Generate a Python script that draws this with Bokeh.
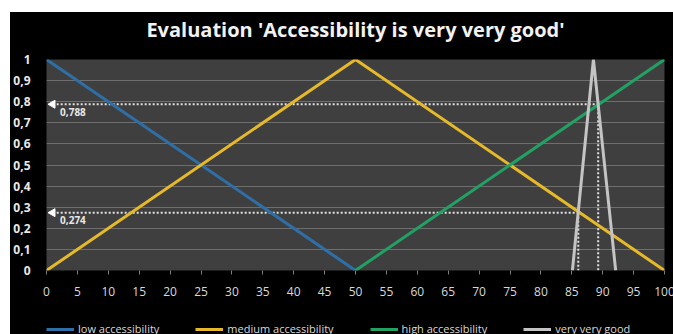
from bokeh.plotting import figure
from bokeh.models import Range1d, FixedTicker, Legend, LegendItem, Label, LinearAxis
from bokeh.layouts import column
from bokeh.embed import file_html
from bokeh.resources import INLINE

# ---- data ----
low_x = [0, 50]
low_y = [1, 0]
med_x = [0, 50, 100]
med_y = [0, 1, 0]
high_x = [50, 100]
high_y = [0, 1]
vvg_x = [85.1, 88.5, 92.1]
vvg_y = [0, 1, 0]

cut_values = [0.788, 0.274]
cut_labels = ["0,788", "0,274"]
cut_x_end = [89.27, 86.05]

x_ticks = list(range(0, 101, 5))
y_ticks = [0, 0.1, 0.2, 0.3, 0.4, 0.5, 0.6, 0.7, 0.8, 0.9, 1.0]
y_tick_labels = ["0", "0,1", "0,2", "0,3", "0,4", "0,5", "0,6", "0,7", "0,8", "0,9", "1"]

title_text = "Evaluation 'Accessibility is very very good'"
series_names = ["low accessibility", "medium accessibility", "high accessibility", "very very good"]
series_colors = ["#2f6fa7", "#e6b92a", "#21a164", "#c4c4c4"]
series_x = [low_x, med_x, high_x, vvg_x]
series_y = [low_y, med_y, high_y, vvg_y]

FONT = "Open Sans"

p = figure(frame_width=618, frame_height=211, title=None,
           x_range=Range1d(0, 100), y_range=Range1d(0, 1),
           output_backend="svg", toolbar_location=None,
           min_border_left=34, min_border_right=11, min_border_top=45, min_border_bottom=0)
p.background_fill_color = "#3f3f3f"
p.border_fill_color = "#000000"
p.outline_line_color = None

# grid
p.xgrid.grid_line_color = None
p.ygrid.grid_line_color = "#6e6e6e"
p.ygrid.grid_line_width = 1
p.ygrid.ticker = FixedTicker(ticks=y_ticks)

# bottom axis
xa = p.below[0]
xa.ticker = FixedTicker(ticks=x_ticks)
xa.major_tick_out = 4
xa.major_tick_in = 0
xa.major_tick_line_color = "#7f7f7f"
xa.minor_tick_line_color = None
xa.axis_line_color = None
xa.major_label_standoff = 12
xa.major_label_text_color = "#d9d9d9"
xa.major_label_text_font = FONT
xa.major_label_text_font_size = "12px"

# left axis
ya = p.left[0]
ya.ticker = FixedTicker(ticks=y_ticks)
ya.major_label_overrides = {t: l for t, l in zip(y_ticks, y_tick_labels)}
ya.major_tick_line_color = None
ya.minor_tick_line_color = None
ya.axis_line_color = None
ya.major_label_standoff = 10
ya.major_label_text_color = "#e8e8e8"
ya.major_label_text_font = FONT
ya.major_label_text_font_style = "bold"
ya.major_label_text_font_size = "12px"

# title drawn as the label of an empty axis above the frame
top_axis = LinearAxis(ticker=FixedTicker(ticks=[]), axis_label=title_text,
                      axis_line_color=None, major_tick_line_color=None,
                      minor_tick_line_color=None, major_tick_out=0, major_label_standoff=0,
                      axis_label_standoff=17,
                      axis_label_text_color="#f2f2f2", axis_label_text_font=FONT,
                      axis_label_text_font_size="20px", axis_label_text_font_style="bold")
p.add_layout(top_axis, "above")

# dotted guide lines
for v, xe in zip(cut_values, cut_x_end):
    p.line([1, xe], [v, v], line_color="#e0e0e0", line_width=2, line_dash="2 2")
    p.line([xe, xe], [v, 0], line_color="#e0e0e0", line_width=2, line_dash="2 2")

# series
for sx, sy, c in zip(series_x, series_y, series_colors):
    p.line(sx, sy, line_color=c, line_width=3)

# markers + labels for cut values
p.scatter([1, 1], cut_values, marker="triangle", angle=1.5708, size=8,
          fill_color="#ffffff", line_color="#ffffff")
for v, lab in zip(cut_values, cut_labels):
    p.add_layout(Label(x=2.2, y=v - 0.035, text=lab, text_color="#e8e8e8",
                       text_font=FONT, text_font_size="10px", text_font_style="bold",
                       text_baseline="middle"))

# legend strip below the chart (own small figure so the legend sits inside a frame)
p2 = figure(width=663, height=40, x_range=Range1d(0, 100), y_range=Range1d(5, 6),
            x_axis_location=None, y_axis_location=None,
            output_backend="svg", toolbar_location=None,
            min_border_left=0, min_border_right=0, min_border_top=0, min_border_bottom=0)
p2.background_fill_color = "#000000"
p2.border_fill_color = "#000000"
p2.outline_line_color = None
p2.xgrid.grid_line_color = None
p2.ygrid.grid_line_color = None

# same series, out of this strip's view: they only feed the legend swatches
legend_renderers = [p2.line(sx, sy, line_color=c, line_width=3)
                    for sx, sy, c in zip(series_x, series_y, series_colors)]
legend = Legend(items=[LegendItem(label=n, renderers=[r]) for n, r in
                       zip(series_names, legend_renderers)],
                orientation="horizontal", location=(0, 2),
                background_fill_alpha=0, border_line_color=None,
                label_text_color="#d9d9d9", label_text_font=FONT,
                label_text_font_size="11px", glyph_width=28, glyph_height=12,
                label_height=12, label_standoff=4, spacing=36, padding=0,
                margin=0)
p2.add_layout(legend, "center")

layout = column(p, p2, spacing=0, margin=(12, 0, 0, 10),
                styles={"background-color": "#000000"})
open("out.html", "w").write(file_html(layout, INLINE))
